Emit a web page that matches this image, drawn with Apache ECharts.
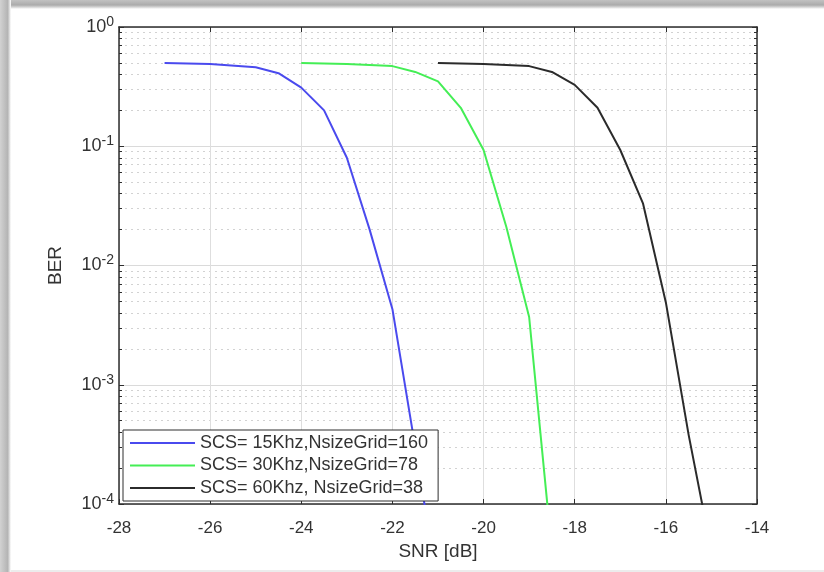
<!DOCTYPE html>
<html>
<head>
<meta charset="utf-8">
<script src="https://cdn.jsdelivr.net/npm/echarts@6/dist/echarts.min.js"></script>
<style>
  html, body { margin: 0; padding: 0; background: #ffffff; overflow: hidden; }
  #chart { width: 824px; height: 572px; }
</style>
</head>
<body>
<div id="chart"></div>
<script>
// Axis ticks
const xTicks = [-28, -26, -24, -22, -20, -18, -16, -14];
const yDecadeExponents = [-4, -3, -2, -1, 0];
const minorMultipliers = [2, 3, 4, 5, 6, 7, 8, 9];

// Series names
const seriesNames = [
  'SCS= 15Khz,NsizeGrid=160',
  'SCS= 30Khz,NsizeGrid=78',
  'SCS= 60Khz, NsizeGrid=38'
];

// BER vs SNR curves
const snr15 = [-27, -26, -25, -24.5, -24, -23.5, -23, -22.5, -22, -21.5, -21];
const ber15 = [0.5, 0.49, 0.46, 0.41, 0.31, 0.2, 0.08, 0.02, 0.0043, 0.0003, 0.00002];

const snr30 = [-24, -23, -22, -21.5, -21, -20.5, -20, -19.5, -19, -18.5];
const ber30 = [0.5, 0.49, 0.47, 0.42, 0.35, 0.21, 0.093, 0.021, 0.0037, 0.00004];

const snr60 = [-21, -20, -19, -18.5, -18, -17.5, -17, -16.5, -16, -15.5, -15];
const ber60 = [0.5, 0.49, 0.47, 0.42, 0.327, 0.21, 0.093, 0.033, 0.0049, 0.00038, 0.00004];

const seriesColors = ['#4a4aee', '#44ee55', '#2b2b2b'];

const FONT = '"Liberation Sans", Arial, Helvetica, sans-serif';
const TEXT_COLOR = '#333333';
const AXIS_COLOR = '#2e2e2e';

const yMin = Math.pow(10, yDecadeExponents[0]);
const yMax = Math.pow(10, yDecadeExponents[yDecadeExponents.length - 1]);

// Minor log positions 2..9 within each decade
const minorValues = [];
yDecadeExponents.slice(0, -1).forEach(function (e) {
  minorMultipliers.forEach(function (m) {
    minorValues.push(Number((m * Math.pow(10, e)).toPrecision(3)));
  });
});
const majorValues = yDecadeExponents.map(function (e) { return Number(Math.pow(10, e).toPrecision(3)); });

function pairs(xs, ys) {
  return xs.map(function (x, i) { return [x, ys[i]]; });
}

const chart = echarts.init(document.getElementById('chart'), null, { renderer: 'canvas' });

const axisLineStyle = { color: AXIS_COLOR, width: 1.5 };

chart.setOption({
  animation: false,
  backgroundColor: '#ffffff',
  textStyle: { fontFamily: FONT },
  graphic: [
    {
      type: 'rect', z: -10, silent: true,
      shape: { x: 0, y: 0, width: 824, height: 9 },
      style: {
        fill: new echarts.graphic.LinearGradient(0, 0, 0, 1, [
          { offset: 0, color: '#c2c2c2' },
          { offset: 0.55, color: '#ababab' },
          { offset: 0.8, color: '#d6d6d6' },
          { offset: 1, color: '#ffffff' }
        ])
      }
    },
    {
      type: 'rect', z: -10, silent: true,
      shape: { x: 0, y: 0, width: 11, height: 572 },
      style: {
        fill: new echarts.graphic.LinearGradient(0, 0, 1, 0, [
          { offset: 0, color: '#d2d2d2' },
          { offset: 0.7, color: '#b4b4b4' },
          { offset: 0.85, color: '#dadada' },
          { offset: 1, color: '#ffffff' }
        ])
      }
    },
    {
      type: 'rect', z: -10, silent: true,
      shape: { x: 11, y: 570, width: 813, height: 2 },
      style: { fill: '#ececec' }
    }
  ],
  grid: { left: 119, top: 27, right: 67, bottom: 68, containLabel: false },
  legend: {
    orient: 'vertical',
    left: 123,
    top: 430,
    padding: [4, 10, 4, 7],
    icon: 'rect',
    itemWidth: 65,
    itemHeight: 2,
    itemGap: 4.5,
    backgroundColor: '#ffffff',
    borderColor: AXIS_COLOR,
    borderWidth: 1,
    borderRadius: 0,
    textStyle: { fontSize: 18, color: TEXT_COLOR, fontFamily: FONT, lineHeight: 18 },
    data: seriesNames
  },
  xAxis: [
    {
      type: 'value',
      position: 'bottom',
      min: xTicks[0],
      max: xTicks[xTicks.length - 1],
      interval: xTicks[1] - xTicks[0],
      name: 'SNR [dB]',
      nameLocation: 'middle',
      nameGap: 36,
      nameTextStyle: { fontSize: 19, color: TEXT_COLOR, fontFamily: FONT },
      axisLine: { show: true, onZero: false, lineStyle: axisLineStyle },
      axisTick: { show: true, inside: true, length: 5, lineStyle: { color: AXIS_COLOR, width: 1 } },
      axisLabel: { margin: 16, fontSize: 17, color: TEXT_COLOR, fontFamily: FONT },
      splitLine: { show: true, lineStyle: { color: '#dedede', width: 1 } }
    },
    {
      type: 'value',
      position: 'top',
      min: xTicks[0],
      max: xTicks[xTicks.length - 1],
      interval: xTicks[1] - xTicks[0],
      axisLine: { show: true, onZero: false, lineStyle: axisLineStyle },
      axisTick: { show: true, inside: true, length: 5, lineStyle: { color: AXIS_COLOR, width: 1 } },
      axisLabel: { show: false },
      splitLine: { show: false }
    }
  ],
  yAxis: [
    {
      type: 'log',
      logBase: 10,
      position: 'left',
      min: yMin,
      max: yMax,
      name: 'BER',
      nameLocation: 'middle',
      nameGap: 54,
      nameTextStyle: { fontSize: 19, color: TEXT_COLOR, fontFamily: FONT },
      axisLine: { show: true, onZero: false, lineStyle: axisLineStyle },
      axisTick: { show: true, inside: true, length: 5, customValues: majorValues, lineStyle: { color: AXIS_COLOR, width: 1 } },
      axisLabel: {
        margin: 5,
        customValues: majorValues,
        color: TEXT_COLOR,
        fontFamily: FONT,
        formatter: function (v) {
          const e = Math.round(Math.log10(v));
          return '{b|10}{s|' + e + '}';
        },
        rich: {
          b: { fontSize: 18, lineHeight: 24, color: TEXT_COLOR, fontFamily: FONT },
          s: { fontSize: 14, lineHeight: 14, verticalAlign: 'top', color: TEXT_COLOR, fontFamily: FONT }
        }
      },
      splitLine: { show: true, lineStyle: { color: '#dadada', width: 1 } }
    },
    {
      type: 'log',
      logBase: 10,
      position: 'left',
      min: yMin,
      max: yMax,
      axisLine: { show: false },
      axisTick: { show: true, inside: true, length: 3, customValues: minorValues, lineStyle: { color: AXIS_COLOR, width: 1 } },
      axisLabel: { show: false },
      splitLine: { show: true, lineStyle: { color: '#d2d2d2', width: 1, type: [2, 4] } }
    },
    {
      type: 'log',
      logBase: 10,
      position: 'right',
      min: yMin,
      max: yMax,
      axisLine: { show: true, onZero: false, lineStyle: axisLineStyle },
      axisTick: { show: true, inside: true, length: 5, customValues: majorValues, lineStyle: { color: AXIS_COLOR, width: 1 } },
      axisLabel: { show: false },
      splitLine: { show: false }
    },
    {
      type: 'log',
      logBase: 10,
      position: 'right',
      min: yMin,
      max: yMax,
      axisLine: { show: false },
      axisTick: { show: true, inside: true, length: 3, customValues: minorValues, lineStyle: { color: AXIS_COLOR, width: 1 } },
      axisLabel: { show: false },
      splitLine: { show: false }
    }
  ],
  series: [
    { name: seriesNames[0], data: pairs(snr15, ber15), color: seriesColors[0] },
    { name: seriesNames[1], data: pairs(snr30, ber30), color: seriesColors[1] },
    { name: seriesNames[2], data: pairs(snr60, ber60), color: seriesColors[2] }
  ].map(function (s) {
    return {
      type: 'line',
      name: s.name,
      data: s.data,
      xAxisIndex: 0,
      yAxisIndex: 0,
      symbol: 'none',
      showSymbol: false,
      clip: true,
      smooth: false,
      itemStyle: { color: s.color },
      lineStyle: { color: s.color, width: 2 },
      z: 3
    };
  })
});
</script>
</body>
</html>
